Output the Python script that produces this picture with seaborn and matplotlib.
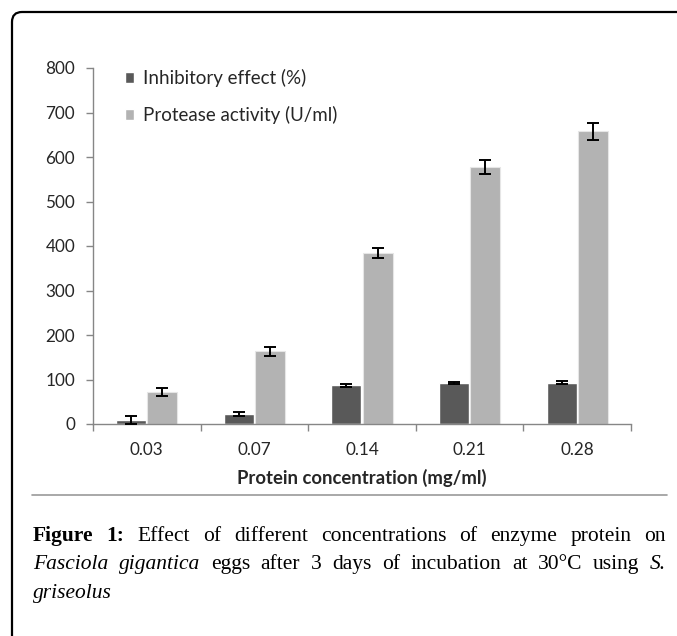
import matplotlib
matplotlib.use("Agg")
import matplotlib.pyplot as plt
import seaborn as sns
import pandas as pd
import numpy as np
from matplotlib.patches import FancyBboxPatch
from matplotlib.container import BarContainer

# --- data ---
concentrations = ["0.03", "0.07", "0.14", "0.21", "0.28"]
inhibitory = [8, 23, 87, 92, 93]
inhibitory_err = [9, 5, 4, 3, 3]
protease = [72, 163, 384, 578, 658]
protease_err = [8, 11, 11, 16, 19]
series_names = ["Inhibitory effect (%)", "Protease activity (U/ml)"]
yticks = [0, 100, 200, 300, 400, 500, 600, 700, 800]

df = pd.DataFrame({
    "conc": concentrations * 2,
    "value": inhibitory + protease,
    "err": inhibitory_err + protease_err,
    "series": [series_names[0]] * 5 + [series_names[1]] * 5,
})

sns.set_style("white")
plt.rcParams["font.family"] = ["Lato", "DejaVu Sans"]

W, H = 677, 636
fig = plt.figure(figsize=(W / 100, H / 100), dpi=100)
ax = fig.add_axes([93 / W, 1 - 424 / H, (631 - 93) / W, (424 - 68) / H])

colors = {series_names[0]: "#595959", series_names[1]: "#b3b3b3"}
sns.barplot(
    data=df, x="conc", y="value", hue="series", order=concentrations,
    hue_order=series_names, palette=colors, errorbar=None,
    width=0.58, gap=0.04, saturation=1, ax=ax,
)

# error bars on top of each bar
errs = [inhibitory_err, protease_err]
vals = [inhibitory, protease]
bar_sets = [c for c in ax.containers if isinstance(c, BarContainer)]
for k, container in enumerate(bar_sets):
    xs = [b.get_x() + b.get_width() / 2 for b in container]
    ax.errorbar(xs, vals[k], yerr=errs[k], fmt="none", ecolor="black",
                elinewidth=1.4, capsize=4, capthick=1.4, zorder=5)
for b in bar_sets[1]:
    b.set_edgecolor("#e6e6e6")
    b.set_linewidth(0.8)

tick_col = "#262626"
ax.set_ylim(0, 800)
ax.set_xlim(-0.5, 4.5)
ax.set_yticks(yticks)
ax.set_yticklabels([str(t) for t in yticks], fontsize=12.3, color=tick_col)
ax.set_xticks(range(5))
ax.set_xticklabels(concentrations, fontsize=12.3, color=tick_col)
ax.set_xticks(np.arange(-0.5, 5, 1), minor=True)
ax.tick_params(axis="x", which="major", length=0, pad=13)
ax.tick_params(axis="x", which="minor", length=5, color="#868686", width=1, direction="out", bottom=True)
ax.tick_params(axis="y", length=5, color="#868686", width=1, direction="out", pad=7.9, left=True)
ax.set_xlabel("Protein concentration (mg/ml)", fontsize=13.3, fontweight="bold",
              color=tick_col, labelpad=8)
ax.set_ylabel("")
for s in ["top", "right"]:
    ax.spines[s].set_visible(False)
for s in ["left", "bottom"]:
    ax.spines[s].set_color("#868686")
    ax.spines[s].set_linewidth(1)

leg = ax.legend(loc="upper left", bbox_to_anchor=(0.059, 0.996), frameon=False,
                fontsize=13.5, handlelength=0.5, handleheight=0.5, handletextpad=0.45,
                labelspacing=1.0, borderpad=0, borderaxespad=0)
for t in leg.get_texts():
    t.set_color(tick_col)

# outer rounded frame (pixel coordinates)
frame = FancyBboxPatch((12, -60), 760, H - 12 + 60,
                       boxstyle="round,pad=0,rounding_size=10",
                       transform=None, fill=False, edgecolor="black", linewidth=1.6)
fig.patches.append(frame)

# separator line under the chart
fig.add_artist(plt.Line2D([32 / W, 667 / W], [1 - 495 / H, 1 - 495 / H],
                          color="#9a9a9a", linewidth=1.2))

# caption with justified lines
renderer = fig.canvas.get_renderer()
serif = ["Liberation Serif", "DejaVu Serif"]
cap_size = 15.5
left_px, right_px = 33, 666


def place_line(words, y_px, justify=True):
    items = []
    for w, style in words:
        kw = dict(fontsize=cap_size, family=serif, color="black", va="baseline")
        if style == "b":
            kw["fontweight"] = "bold"
        if style == "i":
            kw["fontstyle"] = "italic"
        t = fig.text(0, 1 - y_px / H, w, **kw)
        items.append(t)
    widths = [t.get_window_extent(renderer).width for t in items]
    if justify and len(items) > 1:
        gap = (right_px - left_px - sum(widths)) / (len(items) - 1)
    else:
        gap = 4
    x = left_px
    for t, w in zip(items, widths):
        t.set_x(x / W)
        x += w + gap


line1 = [("Figure", "b"), ("1:", "b")] + [(w, "n") for w in
         "Effect of different concentrations of enzyme protein on".split()]
line2 = [("Fasciola", "i"), ("gigantica", "i")] + [(w, "n") for w in
         "eggs after 3 days of incubation at 30°C using".split()] + [("S.", "i")]
line3 = [("griseolus", "i")]
place_line(line1, 541)
place_line(line2, 569)
place_line(line3, 598, justify=False)

fig.savefig("out.png", dpi=100)
